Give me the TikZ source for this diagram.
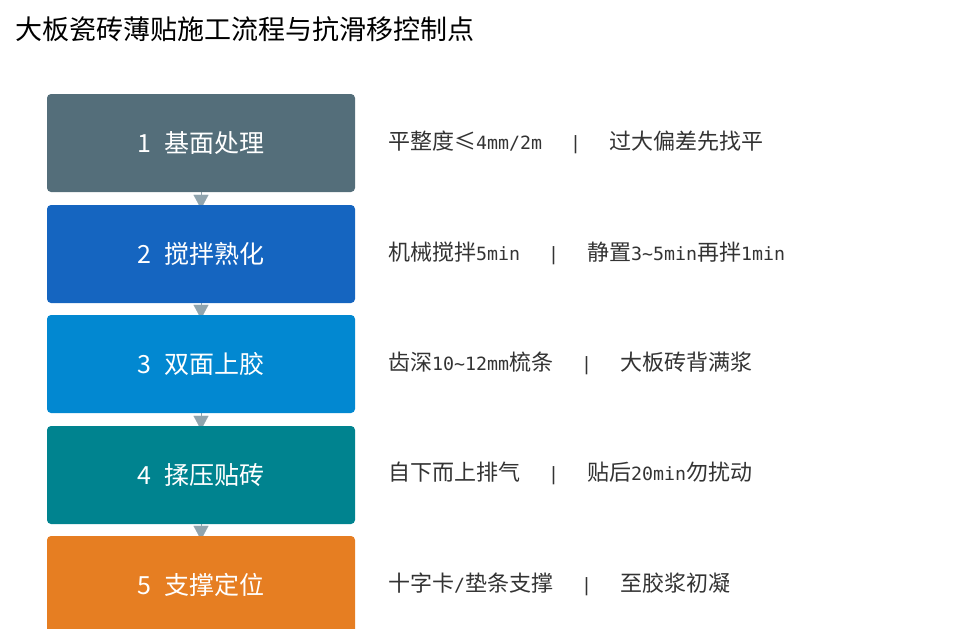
\documentclass[tikz,border=0pt]{standalone}
\usepackage{fontspec}
\setmainfont{Noto Sans CJK SC}
\newfontfamily\latm{DejaVu Sans Mono}[Scale=0.83]
\usetikzlibrary{arrows.meta,backgrounds}
\definecolor{cA}{HTML}{546E7A}
\definecolor{cB}{HTML}{1565C0}
\definecolor{cC}{HTML}{0288D1}
\definecolor{cD}{HTML}{00838F}
\definecolor{cE}{HTML}{E67E22}
\definecolor{arrc}{HTML}{90A4AE}
\definecolor{txt}{HTML}{333333}
\newcommand{\sepbar}{\hspace{28pt}{\latm|}\hspace{28pt}}
\tikzset{
  stepbox/.style={fill=#1, draw=none, rounded corners=4pt, minimum width=308pt, minimum height=98pt, inner sep=0pt, text=white, font=\fontsize{25pt}{30pt}\selectfont},
  note/.style={anchor=west, inner sep=0pt, text=txt, font=\fontsize{22pt}{26pt}\selectfont},
  arr/.style={draw=arrc, line width=0.1pt, -{Triangle[width=15pt,length=14pt,fill=arrc]}},
}
\begin{document}
\begin{tikzpicture}[x=1pt,y=-1pt]
\useasboundingbox (0,0) rectangle (960,643);
\node[anchor=west, inner sep=0pt, text=black, font=\fontsize{27pt}{32pt}\selectfont] (title) at (15,29) {大板瓷砖薄贴施工流程与抗滑移控制点};
\node[stepbox=cA] (b1) at (201,143) {1\hspace{14pt}基面处理};
\node[stepbox=cB] (b2) at (201,254) {2\hspace{14pt}搅拌熟化};
\node[stepbox=cC] (b3) at (201,364) {3\hspace{14pt}双面上胶};
\node[stepbox=cD] (b4) at (201,475) {4\hspace{14pt}揉压贴砖};
\begin{scope}
\clip (0,0) rectangle (960,628);
\node[stepbox=cE] (b5) at (201,585) {5\hspace{14pt}支撑定位};
\end{scope}
\begin{pgfonlayer}{background}
\draw[arr] (b1.south) -- ([yshift=-4pt]b2.north);
\draw[arr] (b2.south) -- ([yshift=-4pt]b3.north);
\draw[arr] (b3.south) -- ([yshift=-4pt]b4.north);
\draw[arr] (b4.south) -- ([yshift=-4pt]b5.north);
\end{pgfonlayer}
\node[note] (n1) at (388,142) {平整度≤{\latm 4mm/2m}\sepbar 过大偏差先找平};
\node[note] (n2) at (388,253) {机械搅拌{\latm 5min}\sepbar 静置{\latm 3\textasciitilde 5min}再拌{\latm 1min}};
\node[note] (n3) at (388,363) {齿深{\latm 10\textasciitilde 12mm}梳条\sepbar 大板砖背满浆};
\node[note] (n4) at (388,473) {自下而上排气\sepbar 贴后{\latm 20min}勿扰动};
\node[note] (n5) at (388,584) {十字卡{\latm /}垫条支撑\sepbar 至胶浆初凝};
\end{tikzpicture}
\end{document}
